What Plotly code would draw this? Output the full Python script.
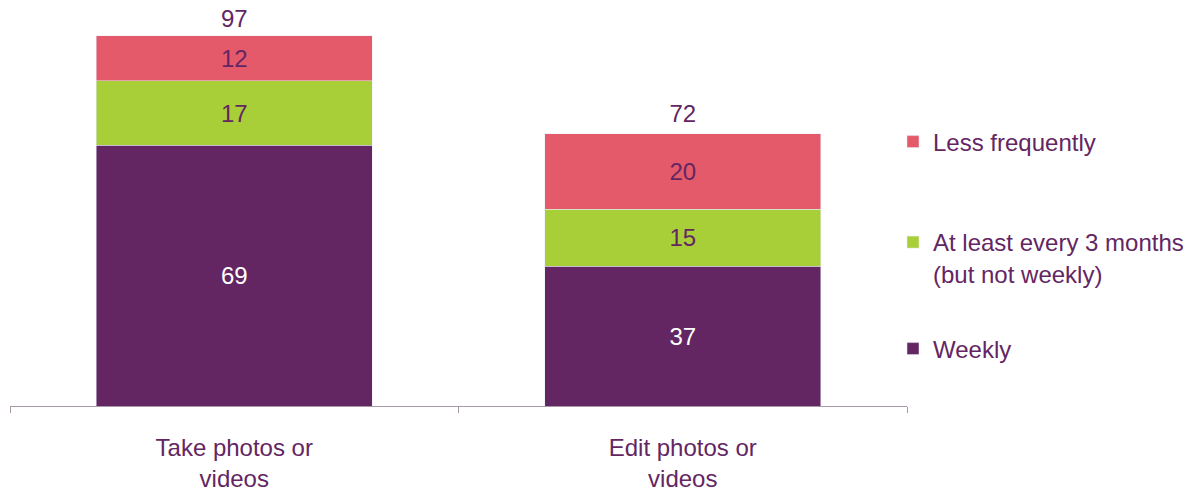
import plotly.graph_objects as go

categories = ["Take photos or<br>videos", "Edit photos or<br>videos"]
weekly = [69, 37]
every_3_months = [17, 15]
less_frequently = [12, 20]
totals = [97, 72]

PURPLE = "#632663"
GREEN = "#A9CF38"
RED = "#E55A6A"
FONT = "Liberation Sans, Arial, sans-serif"

fig = go.Figure()

fig.add_trace(go.Bar(
    x=categories, y=weekly, name="Weekly",
    marker_color=PURPLE, text=weekly, textposition="inside",
    insidetextanchor="middle", textfont=dict(color="white", size=24),
    legend="legend3",
))
fig.add_trace(go.Bar(
    x=categories, y=every_3_months, name="At least every 3 months<br>(but not weekly)",
    marker_color=GREEN, text=every_3_months, textposition="inside",
    insidetextanchor="middle", textfont=dict(color=PURPLE, size=24),
    legend="legend2",
))
fig.add_trace(go.Bar(
    x=categories, y=less_frequently, name="Less frequently",
    marker_color=RED, text=less_frequently, textposition="inside",
    insidetextanchor="middle", textfont=dict(color=PURPLE, size=24),
    legend="legend",
))
# totals above the stacks (invisible marker just pushes the text up a bit)
fig.add_trace(go.Scatter(
    x=categories, y=totals, mode="markers+text", text=totals,
    marker=dict(size=8, opacity=0), cliponaxis=False,
    textposition="top center", textfont=dict(color=PURPLE, size=24),
    showlegend=False, hoverinfo="skip",
))

legend_common = dict(
    xref="container", yref="container", xanchor="left", yanchor="middle",
    font=dict(size=24, color=PURPLE, family=FONT), valign="top",
    bgcolor="rgba(0,0,0,0)", itemwidth=30,
)

fig.update_layout(
    width=1197, height=494,
    barmode="stack", bargap=0.385,
    plot_bgcolor="white", paper_bgcolor="white",
    font=dict(family=FONT, size=24, color=PURPLE),
    margin=dict(l=10, r=290, t=0, b=88, autoexpand=False),
    legend=dict(x=893 / 1197, y=1 - 142 / 494, **legend_common),
    legend2=dict(x=893 / 1197, y=1 - 258 / 494, **legend_common),
    legend3=dict(x=893 / 1197, y=1 - 349 / 494, **legend_common),
    xaxis=dict(
        showline=True, linecolor="#A898A8", linewidth=1,
        ticks="outside", tickson="boundaries", ticklen=6, tickcolor="#A898A8",
        tickfont=dict(size=24, color=PURPLE), ticklabelstandoff=20,
    ),
    yaxis=dict(range=[0, 107.4], visible=False, showgrid=False),
)

# drop the browser's default 8px body margin so the figure sits at the page corner
fig.write_html(
    "out.html",
    config={"displayModeBar": False},
    post_script="document.body.style.margin = '0';",
)
